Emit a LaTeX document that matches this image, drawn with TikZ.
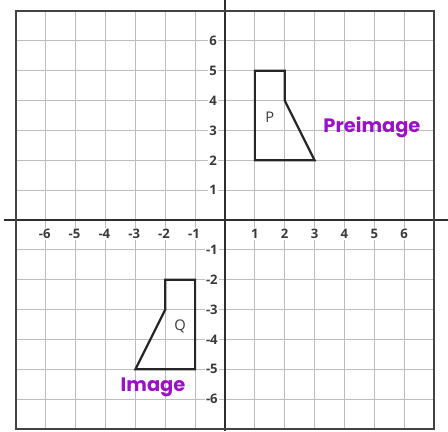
\documentclass[tikz,border=0pt]{standalone}
\usepackage{fontspec}
\setmainfont{Open Sans}
\newfontfamily\handfont{Poppins}
\definecolor{gridgray}{HTML}{BDBDBD}
\definecolor{axisdark}{HTML}{2E2E2E}
\definecolor{labgray}{HTML}{3A3A3A}
\definecolor{handpurple}{HTML}{9A12C4}
\begin{document}
\begin{tikzpicture}[x=1cm,y=1cm,
  gridline/.style={gridgray, line width=0.9pt},
  axisline/.style={axisdark, line width=1.4pt},
  framebox/.style={axisdark!90, line width=2.2pt},
  shapeline/.style={black!85, line width=2.1pt, line join=miter},
  ticklab/.style={fill=white, inner sep=1pt, text=labgray, font=\fontsize{12.5}{13}\selectfont\bfseries},
  shapelab/.style={text=labgray, font=\fontsize{14}{15}\selectfont},
  handlab/.style={text=handpurple, font=\handfont\fontsize{18.5}{20}\selectfont\bfseries}]
\useasboundingbox (-7.535,-7.066) rectangle (7.468,7.368);
% grid
\foreach \k in {-6,...,6} {
  \draw[gridline] (\k,-7) -- (\k,7);
  \draw[gridline] (-7,\k) -- (7,\k);
}
% axes
\coordinate (xl) at (-7.4,0);
\coordinate (xr) at (7.468,0);
\coordinate (yb) at (0,-7.066);
\coordinate (yt) at (0,7.368);
\draw[axisline] (xl) -- (xr);
\draw[axisline] (yb) -- (yt);
% frame
\coordinate (fbl) at (-7,-7);
\coordinate (ftr) at (7,7);
\draw[framebox] (fbl) rectangle (ftr);
% tick labels
\foreach \k in {1,...,6} {
  \node[ticklab] (xp\k) at (\k,-0.47) {\k};
  \node[ticklab] (xm\k) at (-\k-0.04,-0.47) {-\k};
  \node[ticklab] (yp\k) at (-0.40,\k) {\k};
  \node[ticklab] (ym\k) at (-0.44,-\k) {-\k};
}
% preimage P
\coordinate (p1) at (1,2);
\coordinate (p2) at (1,5);
\coordinate (p3) at (2,5);
\coordinate (p4) at (2,4);
\coordinate (p5) at (3,2);
\draw[shapeline] (p1) -- (p2) -- (p3) -- (p4) -- (p5) -- cycle;
\node[shapelab] (plab) at (1.5,3.45) {P};
% image Q
\coordinate (q1) at (-1,-2);
\coordinate (q2) at (-2,-2);
\coordinate (q3) at (-2,-3);
\coordinate (q4) at (-3,-5);
\coordinate (q5) at (-1,-5);
\draw[shapeline] (q1) -- (q2) -- (q3) -- (q4) -- (q5) -- cycle;
\node[shapelab] (qlab) at (-1.5,-3.58) {Q};
% handwritten labels
\node[handlab] (pre) at (4.92,3.1) {Preimage};
\node[handlab] (img) at (-2.41,-5.62) {Image};
\end{tikzpicture}
\end{document}
